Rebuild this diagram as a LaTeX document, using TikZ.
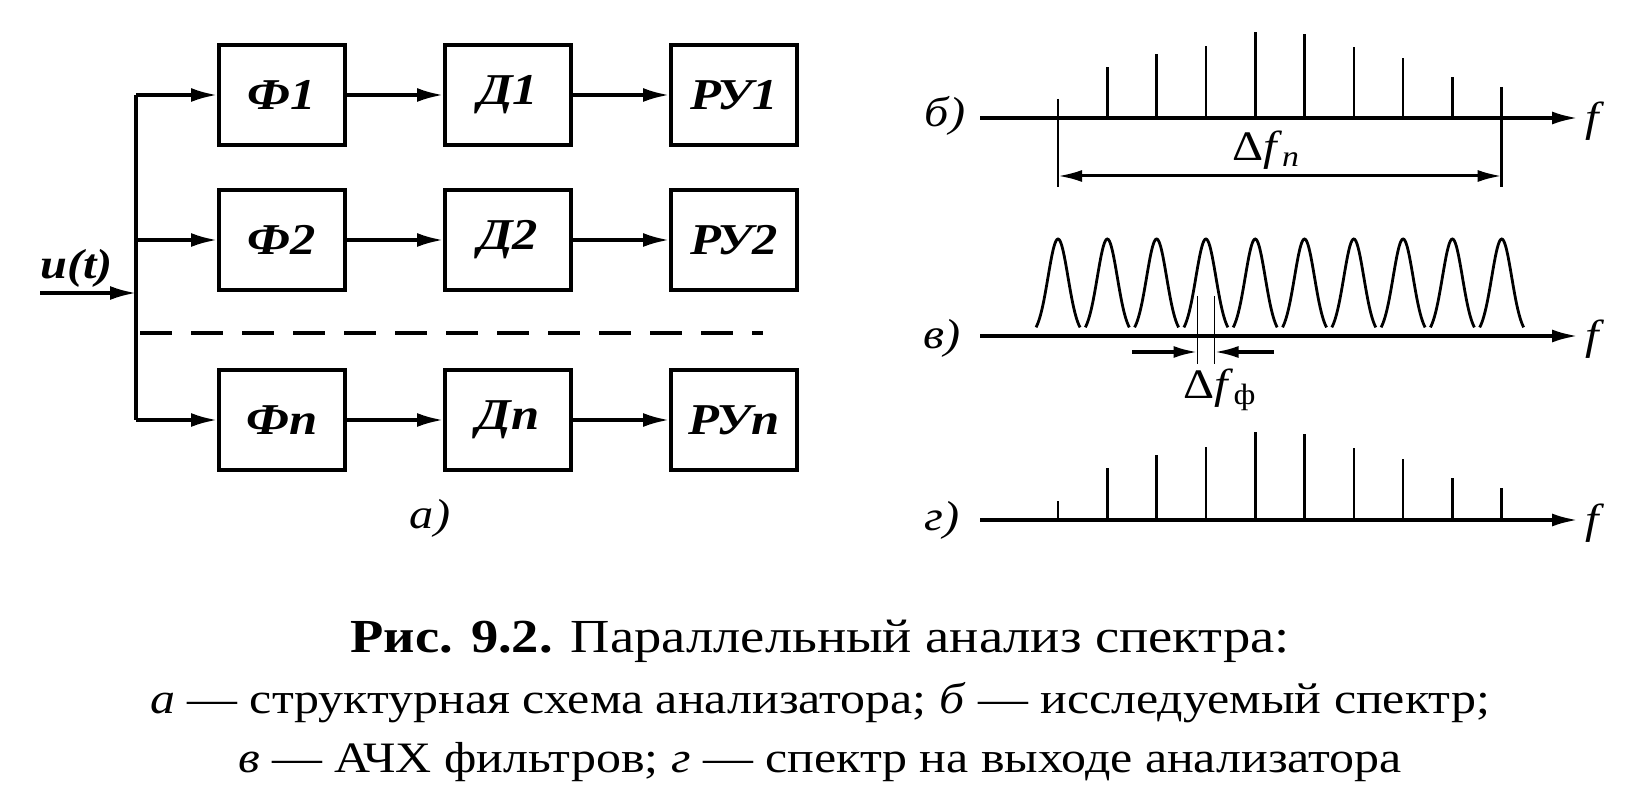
\documentclass[tikz,border=0pt]{standalone}
\usepackage{fontspec}
\setmainfont{Liberation Serif}[FakeStretch=1.15]
\usetikzlibrary{arrows.meta}
\begin{document}
\begin{tikzpicture}[x=0.5pt,y=-0.5pt,
  blk/.style={draw,line width=2pt,minimum width=63pt,minimum height=50pt,inner sep=0pt,
    font=\fontsize{22}{25}\selectfont\bfseries\itshape},
  sig/.style={line width=1.6pt,-{Latex[length=13pt,width=7pt]}},
  bus/.style={line width=1.6pt},
  ax/.style={line width=1.8pt,-{Latex[length=13pt,width=6.5pt]}},
  spec/.style={line width=1.3pt},
  thinline/.style={line width=0.9pt},
  dim/.style={line width=1.5pt,{Latex[length=12pt,width=6pt]}-{Latex[length=12pt,width=6pt]}},
  dimone/.style={line width=1.6pt,-{Latex[length=12pt,width=6pt]}},
  lbl/.style={font=\fontsize{21}{24}\selectfont\itshape,inner sep=0pt},
  dlab/.style={font=\fontsize{21}{24}\selectfont,inner sep=0pt},
  peak/.style={line width=1.4pt}]
\useasboundingbox (0,0) rectangle (1647,812);
% ---- block diagram ----
\node[blk] (f1) at (282,95) {Ф1};
\node[blk] (d1) at (508,95) {Д1};
\node[blk] (r1) at (734,95) {РУ1};
\node[blk] (f2) at (282,240) {Ф2};
\node[blk] (d2) at (508,240) {Д2};
\node[blk] (r2) at (734,240) {РУ2};
\node[blk] (fn) at (282,420) {Фn};
\node[blk] (dn) at (508,420) {Дn};
\node[blk] (rn) at (734,420) {РУn};
\coordinate (b1) at (136,95);
\coordinate (b2) at (136,240);
\coordinate (bn) at (136,420);
\coordinate (bin) at (136,293);
\coordinate (bd) at (140,333);
\coordinate (dend) at (763,333);
\coordinate (uin) at (40,293);
\draw[bus] (b1) -- (bn);
\draw[sig] (b1) -- (f1.west);
\draw[sig] (b2) -- (f2.west);
\draw[sig] (bn) -- (fn.west);
\draw[sig] (f1) -- (d1);
\draw[sig] (d1) -- (r1);
\draw[sig] (f2) -- (d2);
\draw[sig] (d2) -- (r2);
\draw[sig] (fn) -- (dn);
\draw[sig] (dn) -- (rn);
\draw[sig] (uin) -- (bin);
\draw[bus,dash pattern=on 16pt off 9.5pt] (bd) -- (dend);
\node[font=\fontsize{21}{24}\selectfont\bfseries\itshape,anchor=base west,inner sep=0pt] (ut) at (40,279) {u(t)};
\node[lbl] (la) at (430,518) {а)};
% ---- spectrum b ----
\coordinate (bs) at (980,118);
\coordinate (be) at (1578,118);
\draw[ax] (bs) -- (be);
\node[lbl] (fb) at (1592,121) {f};
\node[lbl] (lb) at (945,116) {б)};
\foreach \i/\h in {1/51.4,2/64,3/72.3,4/85.8,5/84,6/70.6,7/59.8,8/40.9}
  \draw[spec] ({1058+49.3*\i},118) -- ++(0,-\h);
\coordinate (el0) at (1058,99);
\coordinate (el0b) at (1058,187);
\coordinate (el9) at (1501.7,87);
\coordinate (el9b) at (1501.7,187);
\draw[spec] (el0) -- (el0b);
\draw[spec] (el9) -- (el9b);
\coordinate (dl) at (1058,176);
\coordinate (dr) at (1501.7,176);
\draw[dim] (dl) -- (dr);
\node[dlab] (dfn) at (1266,150) {Δ\textit{f}\textsubscript{\textit{n}}};
% ---- filters v ----
\coordinate (vs) at (980,336);
\coordinate (ve) at (1578,336);
\draw[ax] (vs) -- (ve);
\node[lbl] (fv) at (1592,339) {f};
\node[lbl] (lv) at (942,338) {в)};
\foreach \i in {0,...,9}
  \draw[peak] plot[domain=-22:22,samples=45,smooth] ({1058+49.3*\i+\x},{336-97*exp(-(\x*\x)/200)});
\coordinate (p1t) at (1197.5,296);
\coordinate (p1b) at (1197.5,364);
\coordinate (p2t) at (1214.5,296);
\coordinate (p2b) at (1214.5,364);
\draw[thinline] (p1t) -- (p1b);
\draw[thinline] (p2t) -- (p2b);
\coordinate (al) at (1132,352);
\coordinate (ar) at (1274,352);
\coordinate (alx) at (1197.5,352);
\coordinate (arx) at (1214.5,352);
\draw[dimone] (al) -- (alx);
\draw[dimone] (ar) -- (arx);
\node[dlab] (dff) at (1220,390) {Δ\textit{f}\textsubscript{ф}};
% ---- spectrum g ----
\coordinate (gs) at (980,520);
\coordinate (ge) at (1578,520);
\draw[ax] (gs) -- (ge);
\node[lbl] (fg) at (1592,523) {f};
\node[lbl] (lg) at (942,520) {г)};
\foreach \i/\h in {0/18.6,1/51.9,2/65.4,3/72.9,4/88.1,5/85.8,6/72.2,7/61,8/42.4,9/32.2}
  \draw[spec] ({1058+49.3*\i},520) -- ++(0,-\h);
% ---- caption ----
\node[anchor=base,inner sep=0pt,font=\fontsize{23.7}{28}\selectfont] (cap1) at (820,652)
  {\textbf{Рис. 9.2.} Параллельный анализ спектра:};
\node[anchor=base,inner sep=0pt,font=\fontsize{21.7}{26}\selectfont] (cap2) at (820,713)
  {\textit{а} — структурная схема анализатора; \textit{б} — исследуемый спектр;};
\node[anchor=base,inner sep=0pt,font=\fontsize{21.7}{26}\selectfont] (cap3) at (820,772)
  {\textit{в} — АЧХ фильтров; \textit{г} — спектр на выходе анализатора};
\end{tikzpicture}
\end{document}
